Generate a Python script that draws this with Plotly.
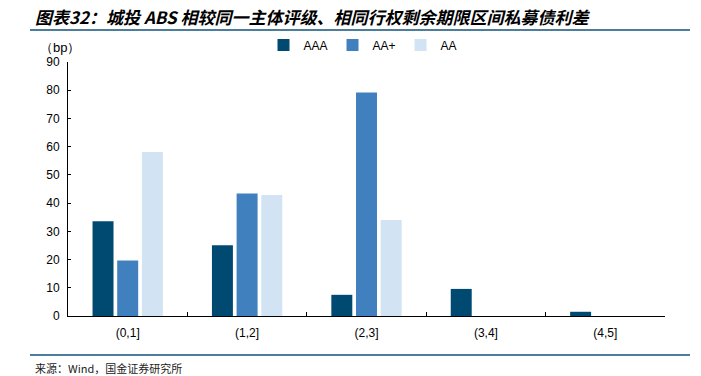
import plotly.graph_objects as go

categories = ["(0,1]", "(1,2]", "(2,3]", "(3,4]", "(4,5]"]
aaa = [33.6, 25.1, 7.5, 9.6, 1.5]
aa_plus = [19.7, 43.4, 79.2, None, None]
aa = [58.1, 42.9, 34.0, None, None]
series_names = ["AAA", "AA+", "AA"]
colors = ["#004A72", "#4180BF", "#D2E3F3"]
y_ticks = [0, 10, 20, 30, 40, 50, 60, 70, 80, 90]

W, H = 701, 376
L, R, T, B = 68, 36, 62, 60
pw, ph = W - L - R, H - T - B

def px(x):
    return (x - L) / pw

def py(y):
    return (H - B - y) / ph

fig = go.Figure()
for name, vals, col in zip(series_names, [aaa, aa_plus, aa], colors):
    fig.add_trace(go.Bar(x=categories, y=vals, name=name, marker=dict(color=col, line=dict(width=0))))

font_lat = "Liberation Sans, Arial, sans-serif"
font_cjk = "Noto Sans CJK SC, sans-serif"

fig.update_layout(
    width=W, height=H,
    margin=dict(l=L, r=R, t=T, b=B),
    paper_bgcolor="white", plot_bgcolor="white",
    barmode="group", bargap=0.38, bargroupgap=0.15,
    font=dict(family=font_lat, size=12, color="#000000"),
    showlegend=True,
    legend=dict(orientation="h", x=px(363), xanchor="center", y=py(45), yanchor="middle",
                font=dict(family=font_lat, size=12, color="#000"), bgcolor="rgba(0,0,0,0)",
                itemwidth=30, tracegroupgap=0),
    xaxis=dict(type="category", showline=True, linecolor="#000", linewidth=1,
               ticks="inside", ticklen=4, tickcolor="#000", tickson="boundaries",
               ticklabelstandoff=6,
               showgrid=False, tickfont=dict(family=font_lat, size=12, color="#000")),
    yaxis=dict(range=[0, 90], tickvals=y_ticks, showline=True, linecolor="#000", linewidth=1,
               ticks="inside", ticklen=3, tickcolor="#000", showgrid=False, zeroline=False,
               ticklabelstandoff=5,
               tickfont=dict(family=font_lat, size=12, color="#000")),
)

fig.add_annotation(text="图表32：城投 ABS 相较同一主体评级、相同行权剩余期限区间私募债利差",
                   xref="paper", yref="paper", x=px(33), y=py(16), xanchor="left", yanchor="middle",
                   showarrow=False, font=dict(family=font_cjk, size=17, color="#000", style="italic", weight="bold"))
fig.add_annotation(text="（bp）", xref="paper", yref="paper", x=px(82), y=py(47), xanchor="right", yanchor="middle",
                   showarrow=False, font=dict(family=font_lat, size=13, color="#000"))
fig.add_annotation(text="来源：Wind，国金证券研究所", xref="paper", yref="paper", x=px(33), y=py(368),
                   xanchor="left", yanchor="middle", showarrow=False,
                   font=dict(family=font_cjk, size=11, color="#222"))

line_col = "#4C7E9C"
fig.add_shape(type="line", xref="paper", yref="paper", x0=px(30), x1=px(690), y0=py(30), y1=py(30),
              line=dict(color=line_col, width=2))
fig.add_shape(type="line", xref="paper", yref="paper", x0=px(30), x1=px(690), y0=py(355), y1=py(355),
              line=dict(color=line_col, width=2))

fig.write_html("out.html", config={"displayModeBar": False},
               post_script="document.body.style.margin='0';document.body.style.overflow='hidden';")
